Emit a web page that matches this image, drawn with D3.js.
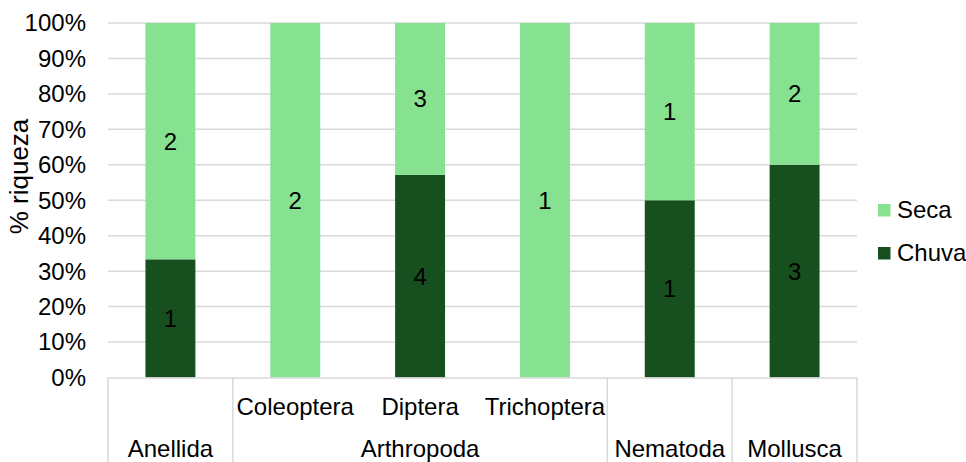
<!DOCTYPE html>
<html><head><meta charset="utf-8">
<script src="https://cdn.jsdelivr.net/npm/d3@7"></script>
<style>body{margin:0;background:#fff}svg{display:block}text{font-family:"Liberation Sans",Arial,sans-serif}</style>
</head><body><svg id="c" width="966" height="462"></svg>
<script>
const categories = ["Anellida","Coleoptera","Diptera","Trichoptera","Nematoda","Mollusca"];
const subLabels = ["","Coleoptera","Diptera","Trichoptera","",""];
const groupLabels = ["Anellida","Arthropoda","Arthropoda","Arthropoda","Nematoda","Mollusca"];
const chuva = [1,0,4,0,1,3];
const seca = [2,2,3,1,1,2];
const seriesNames = ["Chuva","Seca"];
const yTicks = [0,0.1,0.2,0.3,0.4,0.5,0.6,0.7,0.8,0.9,1];
const colors = {Chuva:"#17501E", Seca:"#86E190"};

const svg = d3.select("#c");
const L=108, R=857, T=23, B=377.5, FS=24;
const x = d3.scaleBand().domain(categories).range([L,R]).paddingInner(0.6).paddingOuter(0.3);
const y = d3.scaleLinear().domain([0,1]).range([B,T]);

// gridlines
svg.append("g").selectAll("line").data(yTicks.filter(d=>d>0)).join("line")
  .attr("x1",L).attr("x2",R).attr("y1",d=>y(d)).attr("y2",d=>y(d))
  .attr("stroke","#D9D9D9").attr("stroke-width",1.5);

// y tick labels
svg.append("g").selectAll("text").data(yTicks).join("text")
  .attr("x",86).attr("y",d=>y(d)).attr("dy","0.35em").attr("text-anchor","end")
  .attr("font-size",FS).attr("fill","#000").text(d=>d3.format(".0%")(d));

// stacked data
const rows = categories.map((c,i)=>({cat:c, Chuva:chuva[i], Seca:seca[i], total:chuva[i]+seca[i]}));
const stack = d3.stack().keys(seriesNames).value((d,k)=>d[k]/d.total);
const layers = stack(rows);
layers.forEach(layer=>{
  const g = svg.append("g");
  g.selectAll("rect").data(layer).join("rect")
    .attr("x",d=>x(d.data.cat)).attr("width",x.bandwidth())
    .attr("y",d=>y(d[1])).attr("height",d=>y(d[0])-y(d[1]))
    .attr("fill",colors[layer.key]);
  g.selectAll("text").data(layer.filter(d=>d.data[layer.key]>0)).join("text")
    .attr("x",d=>x(d.data.cat)+x.bandwidth()/2).attr("y",d=>(y(d[0])+y(d[1]))/2)
    .attr("dy","0.35em").attr("text-anchor","middle").attr("font-size",FS).attr("fill","#000")
    .text(d=>d.data[layer.key]);
});

// category axis
const step = x.step();
const edge = i => L + i*step;
svg.append("line").attr("x1",L).attr("x2",R).attr("y1",B+0.5).attr("y2",B+0.5)
  .attr("stroke","#D9D9D9").attr("stroke-width",1.5);
const bounds = [0];
for(let i=1;i<categories.length;i++) if(groupLabels[i]!==groupLabels[i-1]) bounds.push(i);
bounds.push(categories.length);
svg.append("g").selectAll("line").data(bounds).join("line")
  .attr("x1",i=>edge(i)).attr("x2",i=>edge(i)).attr("y1",B).attr("y2",462)
  .attr("stroke","#D9D9D9").attr("stroke-width",1.5);
svg.append("g").selectAll("text").data(categories.map((c,i)=>({c,i,t:subLabels[i]})).filter(d=>d.t)).join("text")
  .attr("x",d=>x(d.c)+x.bandwidth()/2).attr("y",415).attr("text-anchor","middle")
  .attr("font-size",FS).attr("fill","#000").text(d=>d.t);
for(let b=0;b<bounds.length-1;b++){
  svg.append("text").attr("x",(edge(bounds[b])+edge(bounds[b+1]))/2).attr("y",457)
    .attr("text-anchor","middle").attr("font-size",FS).attr("fill","#000").text(groupLabels[bounds[b]]);
}

// y axis title
svg.append("text").attr("transform","translate(27.5,176.5) rotate(-90)").attr("text-anchor","middle")
  .attr("font-size",26).attr("fill","#000").text("% riqueza");

// legend
const leg = ["Seca","Chuva"];
leg.forEach((k,i)=>{
  const cy = 210 + i*43;
  svg.append("rect").attr("x",878).attr("y",cy-6).attr("width",12.5).attr("height",12.5).attr("fill",colors[k]);
  svg.append("text").attr("x",897).attr("y",cy).attr("dy","0.35em").attr("font-size",FS).attr("fill","#000").text(k);
});
</script></body></html>
